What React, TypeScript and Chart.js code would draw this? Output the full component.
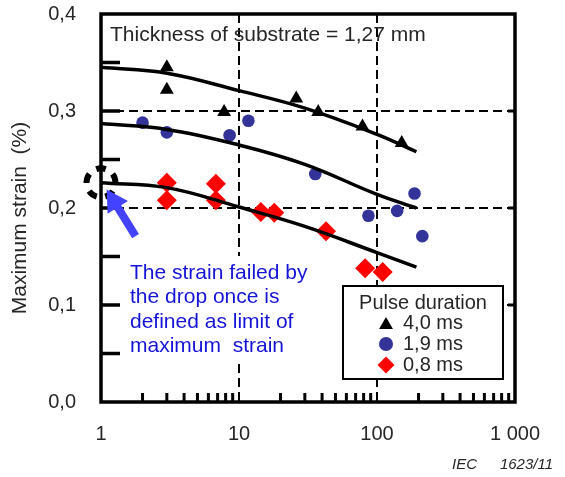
import React, { useEffect, useRef } from 'react';
import { Chart, registerables } from 'chart.js';

Chart.register(...registerables);

// ---------- data ----------
const SERIES_LABELS = ['4,0 ms', '1,9 ms', '0,8 ms'];
const LEGEND_TITLE = 'Pulse duration';
const CHART_TITLE = 'Thickness of substrate = 1,27 mm';
const Y_TITLE = 'Maximum strain  (%)';
const NOTE_LINES = ['The strain failed by', 'the drop once is', 'defined as limit of', 'maximum  strain'];
const SOURCE_LEFT = 'IEC';
const SOURCE_RIGHT = '1623/11';

const X_TICKS = [1, 10, 100, 1000];
const X_TICK_LABELS = ['1', '10', '100', '1 000'];
const X_MINOR = [2, 3, 4, 5, 6, 7, 8, 9, 20, 30, 40, 50, 60, 70, 80, 90, 200, 300, 400, 500, 600, 700, 800, 900];
const Y_TICKS = [0, 0.1, 0.2, 0.3, 0.4];
const Y_TICK_LABELS = ['0,0', '0,1', '0,2', '0,3', '0,4'];
const Y_LEFT_TICKS = [0.05, 0.1, 0.15, 0.2, 0.25, 0.3, 0.35];
const Y_RIGHT_TICKS = [0.1, 0.2, 0.3];

// 4,0 ms (triangles)
const TRI_X = [3, 3, 7.8, 26, 37.5, 78.5, 151];
const TRI_Y = [0.345, 0.322, 0.299, 0.313, 0.299, 0.284, 0.267];
// 1,9 ms (circles)
const CIR_X = [2, 3, 8.55, 11.7, 35.7, 86.7, 140, 187, 213];
const CIR_Y = [0.288, 0.278, 0.275, 0.29, 0.235, 0.192, 0.197, 0.215, 0.171];
// 0,8 ms (diamonds)
const DIA_X = [3, 3, 6.8, 6.8, 14.4, 18, 42.7, 82, 110];
const DIA_Y = [0.226, 0.208, 0.225, 0.208, 0.196, 0.195, 0.176, 0.138, 0.134];

// fitted curves
const FIT_X = [1, 3, 10, 30, 100, 193];
const FIT_40 = [0.345, 0.339, 0.321, 0.303, 0.276, 0.258];
const FIT_19 = [0.287, 0.281, 0.265, 0.245, 0.214, 0.2];
const FIT_08 = [0.226, 0.221, 0.201, 0.181, 0.154, 0.139];

// failure-limit marker and arrow (data coordinates)
const LIMIT_X = 1;
const LIMIT_Y = 0.226;
const ARROW_FROM = [1.78, 0.171];
const ARROW_TO = [1.1, 0.219];

// ---------- styles ----------
const FONT = '"Liberation Sans", Arial, Helvetica, sans-serif';
const TEXT = '#262626';
const COLORS = ['#000000', '#333399', '#ff0000'];
const STYLES = ['triangle', 'circle', 'rectRot'];
const RADII = [8, 6.3, 10];
const LEGEND_RADII = [8, 7, 8.5];
const NOTE_COLOR = '#1414d8';
const ARROW_COLOR = '#4343ff';

function pts(xs: number[], ys: number[]) {
  return xs.map((x, i) => ({ x, y: ys[i] }));
}

function drawMarker(ctx: CanvasRenderingContext2D, style: string, x: number, y: number, r: number, color: string) {
  ctx.save();
  ctx.fillStyle = color;
  ctx.beginPath();
  if (style === 'triangle') {
    ctx.moveTo(x, y - r);
    ctx.lineTo(x + r * Math.sin(Math.PI / 3), y + r / 2);
    ctx.lineTo(x - r * Math.sin(Math.PI / 3), y + r / 2);
    ctx.closePath();
  } else if (style === 'circle') {
    ctx.arc(x, y, r, 0, Math.PI * 2);
  } else {
    ctx.moveTo(x - r, y);
    ctx.lineTo(x, y - r);
    ctx.lineTo(x + r, y);
    ctx.lineTo(x, y + r);
    ctx.closePath();
  }
  ctx.fill();
  ctx.restore();
}

const decor = {
  id: 'decor',
  beforeDatasetsDraw(chart: any) {
    const { ctx, chartArea: a } = chart;
    ctx.save();
    // white panel behind annotation
    ctx.fillStyle = '#ffffff';
    ctx.fillRect(a.left + 10, 256, 237, 106);
    ctx.fillStyle = NOTE_COLOR;
    ctx.font = `21px ${FONT}`;
    ctx.textAlign = 'left';
    ctx.textBaseline = 'middle';
    NOTE_LINES.forEach((t, i) => ctx.fillText(t, a.left + 29, 273 + i * 24.4));
    ctx.restore();
  },
  afterDraw(chart: any) {
    const { ctx, chartArea: a, scales } = chart;
    const xs = scales.x;
    const ys = scales.y;
    ctx.save();
    // frame
    ctx.strokeStyle = '#000';
    ctx.lineWidth = 3.5;
    ctx.strokeRect(a.left, a.top, a.right - a.left, a.bottom - a.top);
    // left ticks
    ctx.beginPath();
    Y_LEFT_TICKS.forEach((v) => {
      const y = ys.getPixelForValue(v);
      ctx.moveTo(a.left, y);
      ctx.lineTo(a.left + 19, y);
    });
    ctx.stroke();
    // right ticks
    ctx.lineWidth = 3;
    ctx.beginPath();
    Y_RIGHT_TICKS.forEach((v) => {
      const y = ys.getPixelForValue(v);
      ctx.moveTo(a.right, y);
      ctx.lineTo(a.right - 7, y);
    });
    ctx.stroke();
    // bottom minor ticks
    ctx.lineWidth = 3;
    ctx.beginPath();
    X_MINOR.forEach((v) => {
      const x = xs.getPixelForValue(v);
      ctx.moveTo(x, a.bottom);
      ctx.lineTo(x, a.bottom - 9);
    });
    ctx.stroke();

    // chart title inside plot
    ctx.fillStyle = TEXT;
    ctx.font = `21px ${FONT}`;
    ctx.textAlign = 'left';
    ctx.textBaseline = 'alphabetic';
    ctx.fillText(CHART_TITLE, a.left + 9, a.top + 27);

    // y axis title
    ctx.save();
    ctx.translate(20, 218);
    ctx.rotate(-Math.PI / 2);
    ctx.textAlign = 'center';
    ctx.textBaseline = 'middle';
    ctx.font = `21px ${FONT}`;
    ctx.fillText(Y_TITLE, 0, 0);
    ctx.restore();

    // source label
    ctx.font = `italic 15px ${FONT}`;
    ctx.textBaseline = 'middle';
    ctx.textAlign = 'left';
    ctx.fillText(SOURCE_LEFT, 452, 465);
    ctx.textAlign = 'right';
    ctx.fillText(SOURCE_RIGHT, 553, 465);

    // legend
    const lx = a.right - 172;
    const ly = 286;
    const lw = 160;
    const lh = 93;
    ctx.fillStyle = '#fff';
    ctx.fillRect(lx, ly, lw, lh);
    ctx.strokeStyle = '#000';
    ctx.lineWidth = 2;
    ctx.strokeRect(lx, ly, lw, lh);
    ctx.fillStyle = TEXT;
    ctx.font = `20px ${FONT}`;
    ctx.textAlign = 'center';
    ctx.textBaseline = 'middle';
    ctx.fillText(LEGEND_TITLE, lx + 80, ly + 17);
    chart.data.datasets
      .filter((d: any) => d.isSeries)
      .forEach((d: any, i: number) => {
        const y = ly + 37 + i * 21;
        drawMarker(ctx, STYLES[i], lx + 43, y + (STYLES[i] === 'triangle' ? 2 : 0), LEGEND_RADII[i], COLORS[i]);
        ctx.fillStyle = TEXT;
        ctx.textAlign = 'left';
        ctx.fillText(d.label, lx + 60, y);
      });

    // dashed limit circle: five thick arc segments
    const cx = xs.getPixelForValue(LIMIT_X);
    const cy = ys.getPixelForValue(LIMIT_Y);
    ctx.strokeStyle = '#000';
    ctx.lineWidth = 6;
    ctx.lineCap = 'butt';
    for (let k = 0; k < 5; k++) {
      const c = -Math.PI / 2 + (k * 2 * Math.PI) / 5;
      const half = (19 * Math.PI) / 180;
      ctx.beginPath();
      ctx.arc(cx, cy, 14.5, c - half, c + half);
      ctx.stroke();
    }

    // arrow
    const tx = xs.getPixelForValue(ARROW_FROM[0]);
    const ty = ys.getPixelForValue(ARROW_FROM[1]);
    const hx = xs.getPixelForValue(ARROW_TO[0]);
    const hy = ys.getPixelForValue(ARROW_TO[1]);
    const ang = Math.atan2(hy - ty, hx - tx);
    const len = Math.hypot(hx - tx, hy - ty);
    ctx.save();
    ctx.translate(tx, ty);
    ctx.rotate(ang);
    ctx.fillStyle = ARROW_COLOR;
    const headL = 21;
    const headW = 12;
    const shaftW = 4;
    ctx.beginPath();
    ctx.moveTo(0, -shaftW);
    ctx.lineTo(len - headL, -shaftW);
    ctx.lineTo(len - headL, -headW);
    ctx.lineTo(len, 0);
    ctx.lineTo(len - headL, headW);
    ctx.lineTo(len - headL, shaftW);
    ctx.lineTo(0, shaftW);
    ctx.closePath();
    ctx.fill();
    ctx.restore();

    ctx.restore();
  },
};

function fitDataset(ys: number[]) {
  return {
    label: '',
    isSeries: false,
    data: pts(FIT_X, ys),
    showLine: true,
    borderColor: '#000',
    borderWidth: 3.5,
    pointRadius: 0,
    tension: 0.4,
    fill: false,
    order: 0,
  };
}

function seriesDataset(i: number, xs: number[], ys: number[]) {
  return {
    label: SERIES_LABELS[i],
    isSeries: true,
    data: pts(xs, ys),
    showLine: false,
    pointStyle: STYLES[i],
    pointRadius: RADII[i],
    backgroundColor: COLORS[i],
    borderColor: COLORS[i],
    borderWidth: 0,
    order: 1,
  };
}

export default function App() {
  const ref = useRef<HTMLCanvasElement>(null);
  useEffect(() => {
    const canvas = ref.current;
    if (!canvas) return;
    const chart = new Chart(canvas, {
      type: 'scatter',
      data: {
        datasets: [
          fitDataset(FIT_40),
          fitDataset(FIT_19),
          fitDataset(FIT_08),
          seriesDataset(0, TRI_X, TRI_Y),
          seriesDataset(1, CIR_X, CIR_Y),
          seriesDataset(2, DIA_X, DIA_Y),
        ] as any,
      },
      options: {
        animation: false,
        responsive: false,
        maintainAspectRatio: false,
        devicePixelRatio: 1,
        layout: { padding: { left: 0, top: 14, right: 50, bottom: 0 } },
        plugins: { legend: { display: false }, tooltip: { enabled: false }, title: { display: false } },
        scales: {
          x: {
            type: 'logarithmic',
            min: 1,
            max: 1000,
            afterBuildTicks: (s: any) => {
              s.ticks = X_TICKS.map((v) => ({ value: v }));
            },
            afterFit: (s: any) => {
              s.height = 75;
              s.paddingLeft = 0;
              s.paddingRight = 0;
            },
            ticks: {
              callback: (_v: any, i: number) => X_TICK_LABELS[i],
              font: { size: 20, family: FONT },
              color: TEXT,
              padding: 20,
              maxRotation: 0,
              autoSkip: false,
            },
            grid: {
              drawTicks: false,
              lineWidth: 2,
              color: (c: any) => (c.tick && (c.tick.value === 10 || c.tick.value === 100) ? '#000' : 'rgba(0,0,0,0)'),
            },
            border: { display: false, dash: [9, 5] },
          },
          y: {
            type: 'linear',
            min: 0,
            max: 0.4,
            afterBuildTicks: (s: any) => {
              s.ticks = Y_TICKS.map((v) => ({ value: v }));
            },
            afterFit: (s: any) => {
              s.width = 101;
              s.paddingTop = 0;
              s.paddingBottom = 0;
            },
            ticks: {
              callback: (_v: any, i: number) => Y_TICK_LABELS[i],
              font: { size: 20, family: FONT },
              color: TEXT,
              padding: 25,
            },
            grid: {
              drawTicks: false,
              lineWidth: 2,
              color: (c: any) =>
                c.tick && c.tick.value > 0.05 && c.tick.value < 0.35 ? '#000' : 'rgba(0,0,0,0)',
            },
            border: { display: false, dash: [9, 5] },
          },
        },
      } as any,
      plugins: [decor],
    });
    return () => chart.destroy();
  }, []);
  return (
    <div style={{ position: 'absolute', left: 0, top: 0, width: 565, height: 477, background: '#fff' }}>
      <canvas ref={ref} width={565} height={477} style={{ width: 565, height: 477, display: 'block' }} />
    </div>
  );
}
